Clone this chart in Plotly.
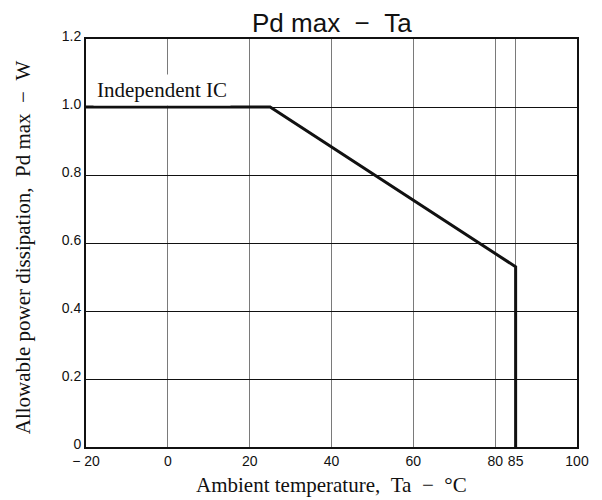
import plotly.graph_objects as go

# Data
temp_c = [-20, 25, 85, 85]
pd_max_w = [1.0, 1.0, 0.53, 0.0]

x_tick_vals = [-20, 0, 20, 40, 60, 80, 85, 100]
x_tick_text = ["\u2212 20", "0", "20", "40", "60", "80", "85", "100"]
y_tick_vals = [0, 0.2, 0.4, 0.6, 0.8, 1.0, 1.2]
y_tick_text = ["0", "0.2", "0.4", "0.6", "0.8", "1.0", "1.2"]

title_text = "Pd max\u00a0\u00a0\u2212\u00a0\u00a0Ta"
x_title = "Ambient temperature,\u00a0\u00a0Ta\u00a0\u00a0\u2212\u00a0\u00a0\u00b0C"
y_title = "Allowable power dissipation,\u00a0\u00a0Pd max\u00a0\u00a0\u2212\u00a0\u00a0W"
label_text = "Independent IC"

sans = "Liberation Sans, Arial, sans-serif"
serif = "Liberation Serif, Times New Roman, serif"

fig = go.Figure()
fig.add_trace(go.Scatter(
    x=temp_c, y=pd_max_w, mode="lines",
    line=dict(color="#111111", width=3),
    showlegend=False, hoverinfo="skip",
))

fig.update_layout(
    width=602, height=500,
    margin=dict(l=78, r=33, t=31, b=61),
    paper_bgcolor="white", plot_bgcolor="white",
    font=dict(family=sans, size=14, color="#111111"),
    xaxis=dict(
        range=[-20, 100], tickvals=x_tick_vals, ticktext=x_tick_text,
        showgrid=True, gridcolor="#7a7a7a", gridwidth=1,
        showline=True, linecolor="#111111", linewidth=2, mirror=True,
        ticks="", zeroline=False, tickfont=dict(family=sans, size=14),
    ),
    yaxis=dict(
        range=[0, 1.2], tickvals=y_tick_vals, ticktext=y_tick_text,
        showgrid=True, gridcolor="#111111", gridwidth=1,
        showline=True, linecolor="#111111", linewidth=2, mirror=True,
        ticks="", zeroline=False, tickfont=dict(family=sans, size=14),
        ticklabelshift=-3,
    ),
    annotations=[
        dict(text=title_text, xref="paper", yref="paper", x=0.5, y=1.04,
             xanchor="center", yanchor="middle", showarrow=False,
             font=dict(family=sans, size=26, color="#111111")),
        dict(text=x_title, xref="paper", yref="paper", x=0.5, y=-0.093,
             xanchor="center", yanchor="middle", showarrow=False,
             font=dict(family=serif, size=21, color="#111111")),
        dict(text=y_title, xref="paper", yref="paper", x=-0.128, y=0.49,
             xanchor="center", yanchor="middle", showarrow=False, textangle=-90,
             font=dict(family=serif, size=21, color="#111111")),
        dict(text=label_text, xref="x", yref="y", x=-18.2, y=1.05,
             xanchor="left", yanchor="middle", showarrow=False,
             bgcolor="white", borderpad=3,
             font=dict(family=serif, size=21, color="#111111")),
    ],
)

fig.write_html("out.html")
